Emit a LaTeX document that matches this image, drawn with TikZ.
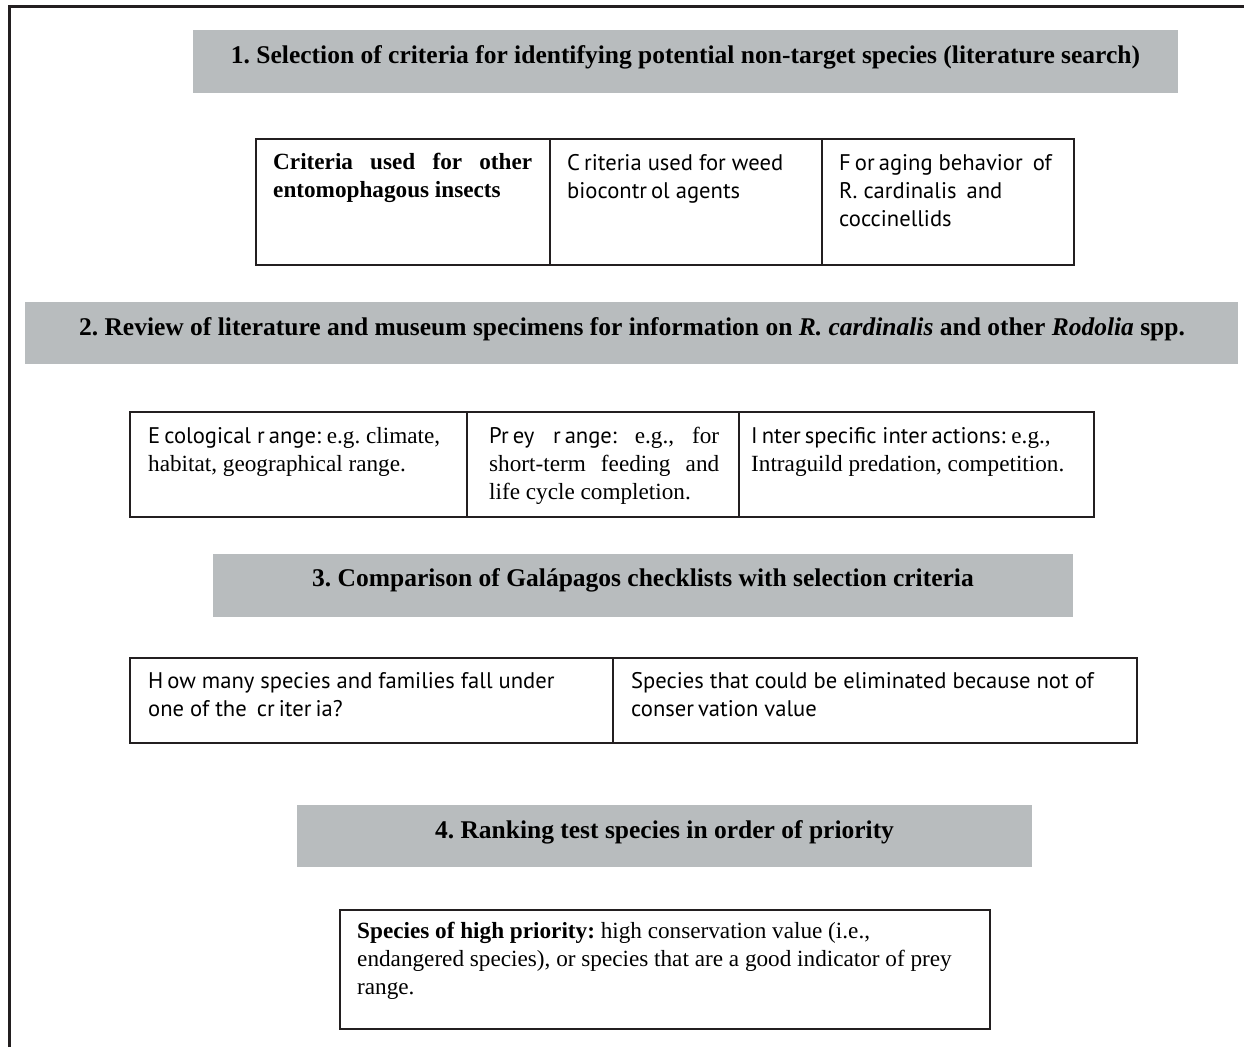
\documentclass[tikz,border=0pt]{standalone}
\usepackage{fontspec}
\setmainfont{Liberation Serif}
\newfontfamily\sansf{PT Sans}
\definecolor{framecol}{RGB}{35,31,32}
\definecolor{greyfill}{RGB}{184,188,190}
\frenchspacing
\newcommand\gp{\kern0.18em}
\newcommand\ttl{\fontsize{25.5}{30}\selectfont\bfseries}
\newcommand\cellfont{\fontsize{23.2}{28}\selectfont}
\newcommand\sansfont{\sansf\fontsize{22.6}{28}\selectfont}
\newcommand\celltext[2]{\parbox[t]{#1}{\cellfont\raggedright #2}}
\tikzset{
  greybox/.style={fill=greyfill, draw=none, anchor=north west, inner sep=0pt},
  cellbox/.style={draw=framecol, line width=1.6pt, anchor=north west, inner sep=0pt},
  titletext/.style={anchor=base, inner sep=0pt, font=\ttl},
  celltxt/.style={anchor=base west, inner sep=0pt},
  frameline/.style={draw=framecol, line width=2.6pt}
}
\begin{document}
\begin{tikzpicture}[x=1pt,y=-1pt]
\useasboundingbox (0,0) rectangle (1244,1047);
% outer frame
\draw[frameline] (9.5,1047) -- (9.5,6.5) -- (1244,6.5);

% ---- step 1
\node[greybox, minimum width=985pt, minimum height=63pt] (g1) at (193,30) {};
\node[titletext] (t1) at (685.5,63) {1. Selection of criteria for identifying potential non-target species (literature search)};

\node[cellbox, minimum width=294pt, minimum height=126pt] (a1) at (255,138) {};
\node[cellbox, minimum width=272pt, minimum height=126pt] (a2) at (549,138) {};
\node[cellbox, minimum width=252pt, minimum height=126pt] (a3) at (821,138) {};
\node[celltxt] (a1t) at (273,169) {\celltext{259pt}{\bfseries\makebox[259pt][s]{Criteria used for other}\\entomophagous insects}};
\node[celltxt] (a2t) at (567,170) {\celltext{250pt}{\sansfont C\gp riteria used for weed\\biocontr\gp ol agents}};
\node[celltxt] (a3t) at (839,170) {\celltext{230pt}{\sansfont F\gp or\gp aging behavior\gp\ of\\R. cardinalis\gp\ and\\coccinellids}};

% ---- step 2
\node[greybox, minimum width=1213pt, minimum height=62pt] (g2) at (25,302) {};
\node[titletext] (t2) at (632,335) {2. Review of literature and museum specimens for information on \textit{R. cardinalis} and other \textit{Rodolia} spp.};

\node[cellbox, minimum width=337pt, minimum height=105pt] (b1) at (129,411) {};
\node[cellbox, minimum width=272pt, minimum height=105pt] (b2) at (466,411) {};
\node[cellbox, minimum width=355pt, minimum height=105pt] (b3) at (738,411) {};
\node[celltxt] (b1t) at (148,443) {\celltext{310pt}{{\sansfont E\gp cological r\gp ange:} e.g. climate,\\habitat, geographical range.}};
\node[celltxt] (b2t) at (489,443) {\celltext{230pt}{\makebox[230pt][s]{{\sansfont Pr\gp ey r\gp ange:} e.g., for}\\\makebox[230pt][s]{short-term feeding and}\\life cycle completion.}};
\node[celltxt] (b3t) at (751,443) {\celltext{335pt}{{\sansfont I\gp nter\gp specific inter\gp actions:} e.g.,\\Intraguild predation, competition.}};

% ---- step 3
\node[greybox, minimum width=860pt, minimum height=63pt] (g3) at (213,554) {};
\node[titletext] (t3) at (643,586) {3. Comparison of Galápagos checklists with selection criteria};

\node[cellbox, minimum width=483pt, minimum height=85pt] (c1) at (129,657) {};
\node[cellbox, minimum width=524pt, minimum height=85pt] (c2) at (612,657) {};
\node[celltxt] (c1t) at (148,688) {\celltext{460pt}{\sansfont H\gp ow many species and families fall under\\one of the\gp\ cr\gp iter\gp ia?}};
\node[celltxt] (c2t) at (631,688) {\celltext{490pt}{\sansfont Species that could be eliminated because not of\\conser\gp vation value}};

% ---- step 4
\node[greybox, minimum width=735pt, minimum height=62pt] (g4) at (297,805) {};
\node[titletext] (t4) at (664.5,838) {4. Ranking test species in order of priority};

\node[cellbox, minimum width=650pt, minimum height=119pt] (d1) at (339,909) {};
\node[celltxt] (d1t) at (357,938) {\celltext{615pt}{\textbf{Species of high priority:} high conservation value (i.e.,\\endangered species), or species that are a good indicator of prey\\range.}};
\end{tikzpicture}
\end{document}
